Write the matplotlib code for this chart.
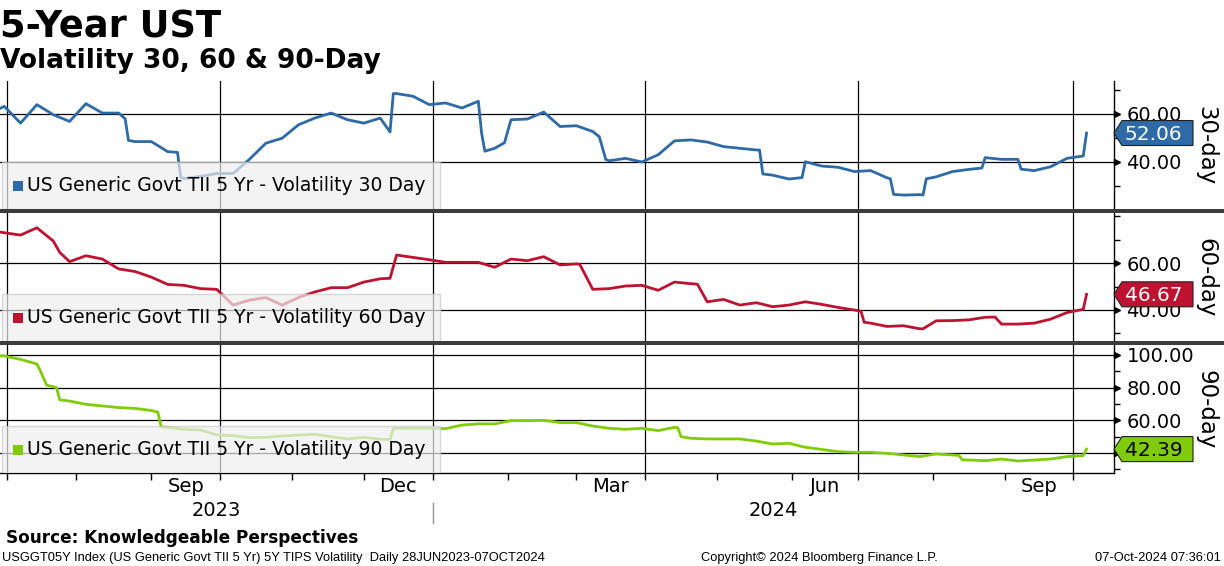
import numpy as np
import pandas as pd
import matplotlib
matplotlib.use("Agg")
import matplotlib.pyplot as plt
from matplotlib import transforms
from matplotlib.patches import Rectangle, Polygon
from matplotlib.lines import Line2D

plt.rcParams["font.family"] = ["DejaVu Sans"]

# weekly readings (Fridays) plus the first and the last observation
dates = (["2023-06-28"]
         + [d.strftime("%Y-%m-%d") for d in pd.date_range("2023-06-30", "2024-10-04", freq="W-FRI")]
         + ["2024-10-07"])

vol30 = [61.8, 63.2, 56.2, 63.9, 59.7, 56.9, 64.3, 60.4, 60.4, 48.5, 48.5, 44.3, 33.1, 34.0, 35.2,
         35.2, 41.1, 47.8, 49.9, 55.5, 58.3, 60.4, 57.6, 56.2, 58.3, 68.5, 67.4, 63.9, 64.6, 62.5,
         65.3, 45.7, 57.6, 57.9, 60.8, 54.8, 55.1, 52.7, 40.5, 41.5, 40.0, 43.0, 48.8, 49.2, 48.3,
         46.4, 45.7, 45.0, 34.5, 32.9, 40.1, 38.3, 37.8, 36.0, 36.4, 33.4, 26.2, 26.4, 33.8, 36.0,
         36.9, 41.8, 41.1, 41.1, 36.4, 38.0, 41.5, 42.5, 52.06]
vol60 = [73.3, 72.9, 71.9, 75.0, 69.4, 60.6, 63.1, 61.7, 57.5, 56.4, 54.0, 50.9, 50.5, 49.1, 48.8,
         42.1, 44.2, 45.3, 42.1, 45.3, 47.7, 49.5, 49.5, 51.9, 53.3, 63.4, 62.4, 61.4, 60.3, 60.3,
         60.3, 58.2, 61.7, 61.0, 62.7, 59.2, 59.6, 48.8, 49.1, 50.2, 50.5, 48.4, 51.9, 51.2, 43.5,
         44.5, 42.1, 43.1, 41.4, 42.1, 43.5, 42.4, 41.1, 40.0, 34.4, 33.0, 33.3, 32.0, 35.4, 35.5,
         35.8, 36.9, 34.0, 34.0, 34.4, 36.1, 38.9, 40.3, 46.67]
vol90 = [99.4, 99.4, 97.3, 94.5, 80.6, 71.8, 69.8, 68.8, 67.8, 67.3, 66.0, 55.7, 54.5, 54.1, 51.0,
         50.6, 49.4, 49.6, 50.4, 51.0, 51.4, 50.0, 48.6, 49.6, 48.4, 55.1, 55.1, 55.1, 54.9, 57.1,
         57.8, 57.8, 59.8, 59.8, 60.0, 58.6, 58.6, 56.5, 55.1, 54.5, 55.1, 53.7, 55.7, 49.0, 48.6,
         48.6, 48.6, 47.3, 45.5, 45.9, 43.5, 42.2, 40.8, 40.4, 40.4, 39.8, 38.8, 37.8, 39.4, 38.8,
         35.7, 35.3, 36.3, 35.1, 35.7, 36.3, 37.8, 38.4, 42.39]

# extra readings on the days around the sharp steps
steps30 = [("2023-08-22", 58.0), ("2023-08-23", 49.0), ("2023-09-13", 44.0), ("2023-09-14", 33.5),
           ("2023-12-13", 52.5), ("2023-12-14", 68.5), ("2024-01-22", 52.0), ("2024-01-23", 44.5),
           ("2024-01-31", 48.0), ("2024-03-12", 50.5), ("2024-03-14", 41.0), ("2024-05-20", 45.0),
           ("2024-05-21", 35.0), ("2024-06-06", 33.5), ("2024-07-15", 33.0), ("2024-07-16", 26.5),
           ("2024-07-29", 26.2), ("2024-07-30", 33.0), ("2024-08-22", 37.5), ("2024-09-09", 37.0)]
steps60 = [("2023-07-25", 64.5), ("2023-12-13", 53.5), ("2024-03-04", 59.5), ("2024-04-23", 51.0),
           ("2024-07-02", 39.5), ("2024-07-03", 34.8), ("2024-07-29", 32.0), ("2024-08-28", 37.0)]
steps90 = [("2023-07-17", 90.5), ("2023-07-19", 81.5), ("2023-07-24", 80.0), ("2023-07-25", 72.5),
           ("2023-09-05", 65.0), ("2023-09-06", 56.0), ("2023-12-13", 48.2), ("2023-12-14", 55.0),
           ("2024-04-15", 55.5), ("2024-04-16", 50.0), ("2024-08-13", 38.5), ("2024-08-14", 35.8)]

series = [(vol30, steps30), (vol60, steps60), (vol90, steps90)]
names = ["US Generic Govt TII 5 Yr - Volatility 30 Day",
         "US Generic Govt TII 5 Yr - Volatility 60 Day",
         "US Generic Govt TII 5 Yr - Volatility 90 Day"]
panel_labels = ["30-day", "60-day", "90-day"]
colors = ["#2e6aa6", "#be1330", "#80cc0a"]
box_text = ["white", "white", "black"]
ylims = [(20.4, 73.75), (26.8, 81.3), (27.75, 106.1)]
major_ticks = [[40, 60], [40, 60], [40, 60, 80, 100]]
tick_labels = [["40.00", "60.00"], ["40.00", "60.00"], ["", "60.00", "80.00", "100.00"]]
minor_ticks = [[30, 50, 70], [30, 50, 70, 80], [30, 50, 70, 90]]

quarter_starts = ["2023-07-01", "2023-10-01", "2024-01-01", "2024-04-01", "2024-07-01", "2024-10-01"]
month_starts = pd.date_range("2023-07-01", "2024-10-01", freq="MS").strftime("%Y-%m-%d").tolist()
month_labels = [("Sep", "2023-09-01", "2023-10-01"), ("Dec", "2023-12-01", "2024-01-01"),
                ("Mar", "2024-03-01", "2024-04-01"), ("Jun", "2024-06-01", "2024-07-01"),
                ("Sep", "2024-09-01", "2024-10-01")]

origin = np.datetime64(dates[0])


def bday(d):
    # trading-day position on the axis
    return np.busday_count(origin, np.datetime64(d))


def build(weekly, steps):
    s = pd.Series(weekly, index=pd.to_datetime(dates))
    extra = pd.Series([v for _, v in steps], index=pd.to_datetime([d for d, _ in steps]))
    s = pd.concat([s, extra]).sort_index()
    x = np.array([bday(d.strftime("%Y-%m-%d")) for d in s.index])
    return x, s.values


xlim = (0.72, 341.4)

W, H = 1224, 566
fig = plt.figure(figsize=(W / 100, H / 100), dpi=100)


def fy(px):
    return 1 - px / H


def fx(px):
    return px / W


panel_px = [(81, 209), (213, 341), (345, 473)]
label_y = [146, 278, 410]
axes = []
for i, (top, bot) in enumerate(panel_px):
    ax = fig.add_axes([0, fy(bot), 1114 / W, (bot - top) / H])
    axes.append(ax)
    xs, ys = build(*series[i])
    ax.plot(xs, ys, color=colors[i], lw=2.0, zorder=2, solid_joinstyle="round")
    ax.set_xlim(*xlim)
    ax.set_ylim(*ylims[i])
    for q in quarter_starts:
        ax.axvline(bday(q), color="black", lw=0.9, zorder=1)
    for t in major_ticks[i]:
        ax.axhline(t, color="black", lw=0.9, zorder=1)

    for s in ["top", "left", "bottom"]:
        ax.spines[s].set_visible(False)
    ax.spines["right"].set_linewidth(1.0)
    ax.yaxis.tick_right()
    ax.set_yticks(major_ticks[i])
    ax.set_yticklabels(tick_labels[i])
    ax.set_yticks(minor_ticks[i], minor=True)
    ax.tick_params(axis="y", which="major", length=0, pad=9, labelsize=14)
    ax.tick_params(axis="y", which="minor", length=4, width=1, direction="out")
    ax.plot([1] * len(major_ticks[i]), major_ticks[i], ls="", marker=">", ms=5, color="black",
            clip_on=False, zorder=6,
            transform=ax.get_yaxis_transform() + transforms.ScaledTranslation(0.03, 0, fig.dpi_scale_trans))

    # legend box
    ax.add_patch(Rectangle((0.002, 0.0), 0.393, 0.37, transform=ax.transAxes,
                           facecolor="#eeeeee", alpha=0.7, edgecolor="#c8c8c8", lw=1, zorder=3))
    ax.add_patch(Rectangle((13 / 1114, 0.18 - 5 / 128), 10 / 1114, 10 / 128, transform=ax.transAxes,
                           facecolor=colors[i], edgecolor="none", zorder=4))
    ax.text(27 / 1114, 0.18, names[i], transform=ax.transAxes, fontsize=13.5, va="center",
            ha="left", zorder=4)

    # last value tag
    last = ys[-1]
    trans = fig.dpi_scale_trans + transforms.ScaledTranslation(1.0, last, ax.get_yaxis_transform())
    verts = np.array([[0, 0], [8, 12.5], [79, 12.5], [79, -12.5], [8, -12.5]]) / 100
    fig.add_artist(Polygon(verts, closed=True, transform=trans, facecolor=colors[i],
                           edgecolor="#202020", lw=0.8, zorder=5))
    fig.add_artist(plt.Text(0.105, -0.01, f"{last:.2f}", transform=trans, color=box_text[i],
                            fontsize=14.5, va="center", ha="left", zorder=6))

    fig.text(fx(1206), fy(label_y[i]), panel_labels[i], rotation=270, ha="center", va="center",
             fontsize=16.5)

for ax in axes[:2]:
    ax.set_xticks([])

ax3 = axes[2]
ax3.spines["bottom"].set_visible(True)
ax3.spines["bottom"].set_linewidth(1.0)
ax3.set_xticks([bday(m) for m in month_starts])
ax3.set_xticklabels([])
ax3.tick_params(axis="x", length=5, width=1, direction="out")

bt = transforms.blended_transform_factory(ax3.transData, fig.transFigure)
for lab, a, b in month_labels:
    fig.text((bday(a) + bday(b)) / 2, fy(487), lab, transform=bt, ha="center", va="center",
             fontsize=14)
jan = bday("2024-01-01")
fig.text((xlim[0] + jan) / 2, fy(511), "2023", transform=bt, ha="center", va="center", fontsize=14)
fig.text((jan + xlim[1]) / 2, fy(511), "2024", transform=bt, ha="center", va="center", fontsize=14)
fig.add_artist(Line2D([jan, jan], [fy(503), fy(523)], transform=bt, color="#909090", lw=1))

# separator bars between panels
for y0 in [213, 345]:
    fig.add_artist(Rectangle((0, fy(y0)), 1, 4 / H, transform=fig.transFigure,
                             facecolor="#3c3c3c", edgecolor="none", zorder=7))

fig.text(0.0, fy(37), "5-Year UST", fontsize=26.5, fontweight="bold", va="baseline", ha="left")
fig.text(0.0, fy(68), "Volatility 30, 60 & 90-Day", fontsize=19, fontweight="bold",
         va="baseline", ha="left")
fig.text(fx(6), fy(543), "Source: Knowledgeable Perspectives", fontsize=12.2, fontweight="bold",
         va="baseline", ha="left")
small = ["Liberation Sans", "DejaVu Sans"]
fig.text(fx(2), fy(561), "USGGT05Y Index (US Generic Govt TII 5 Yr) 5Y TIPS Volatility  Daily 28JUN2023-07OCT2024",
         fontsize=9.3, family=small, va="baseline", ha="left")
fig.text(fx(701), fy(561), "Copyright\u00a9 2024 Bloomberg Finance L.P.", fontsize=9.3, family=small,
         va="baseline", ha="left")
fig.text(fx(1221), fy(561), "07-Oct-2024 07:36:01", fontsize=9.3, family=small, va="baseline", ha="right")

fig.savefig("out.png", dpi=100)
